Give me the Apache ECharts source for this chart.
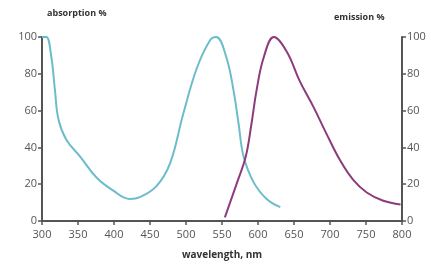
<!DOCTYPE html>
<html>
<head>
<meta charset="utf-8">
<style>
  html, body { margin: 0; padding: 0; background: #fff; }
  #chart { width: 431px; height: 265px; }
</style>
<script src="https://cdn.jsdelivr.net/npm/echarts@6/dist/echarts.min.js"></script>
</head>
<body>
<div id="chart"></div>
<script>
  // wavelength (nm) / value (%) pairs
  var absorptionNm  = [300, 306, 313, 318, 323, 334, 353, 376, 399, 422, 436, 459, 478, 496, 515, 533, 542, 556, 566, 573, 580, 594, 612, 631];
  var absorptionPct = [100, 100, 89, 71, 55, 44, 35, 23.5, 16.5, 12, 13, 19, 31.5, 58, 83, 98, 100, 89, 71, 53, 35, 21, 12, 7.5];
  var emissionNm    = [554, 563, 571, 583, 591, 598, 608, 622, 640, 658, 677, 695, 714, 732, 751, 774, 798];
  var emissionPct   = [2, 12, 21, 35, 53, 71, 89, 100, 92, 76, 62, 47.5, 33, 22.5, 15.5, 11, 9];
  var xTicks = [300, 350, 400, 450, 500, 550, 600, 650, 700, 750, 800];
  var yTicks = [0, 20, 40, 60, 80, 100];

  function pairs(xs, ys) {
    return xs.map(function (x, i) { return [x, ys[i]]; });
  }

  var axisColor = "#555";
  var labelColor = "#555";
  var font = "'Open Sans', sans-serif";

  function yAxisCfg(pos) {
    return {
      type: "value",
      position: pos,
      min: yTicks[0], max: yTicks[yTicks.length - 1], interval: 20,
      axisLine: { show: true, lineStyle: { color: axisColor, width: 2 } },
      axisTick: { show: true, length: 4, lineStyle: { color: axisColor, width: 1.5 } },
      axisLabel: { color: labelColor, fontSize: 11, fontFamily: font, margin: 5 },
      splitLine: { show: false }
    };
  }

  var chart = echarts.init(document.getElementById("chart"), null, { renderer: "canvas" });
  chart.setOption({
    animation: false,
    grid: { left: 42, right: 29, top: 37, bottom: 41 },
    xAxis: {
      type: "value",
      min: xTicks[0], max: xTicks[xTicks.length - 1], interval: 50,
      name: "wavelength, nm",
      nameLocation: "middle",
      nameGap: 29,
      nameTextStyle: { color: "#333", fontSize: 10, fontWeight: "bold", fontFamily: font },
      axisLine: { show: true, lineStyle: { color: axisColor, width: 2 } },
      axisTick: { show: true, length: 4, lineStyle: { color: axisColor, width: 1.5 } },
      axisLabel: { color: labelColor, fontSize: 11, fontFamily: font, margin: 8 },
      splitLine: { show: false }
    },
    yAxis: [yAxisCfg("left"), yAxisCfg("right")],
    graphic: [
      { type: "text", left: 47, top: 9, style: { text: "absorption %", fill: "#333", font: "bold 9px 'Open Sans', sans-serif" } },
      { type: "text", left: 334, top: 13, style: { text: "emission %", fill: "#333", font: "bold 9px 'Open Sans', sans-serif" } }
    ],
    series: [
      {
        name: "absorption", type: "line", smooth: 0.4, showSymbol: false,
        yAxisIndex: 0,
        lineStyle: { color: "#6dbccb", width: 2 },
        data: pairs(absorptionNm, absorptionPct)
      },
      {
        name: "emission", type: "line", smooth: 0.4, showSymbol: false,
        yAxisIndex: 1,
        lineStyle: { color: "#8e3b7c", width: 2 },
        data: pairs(emissionNm, emissionPct)
      }
    ]
  });
</script>
</body>
</html>
